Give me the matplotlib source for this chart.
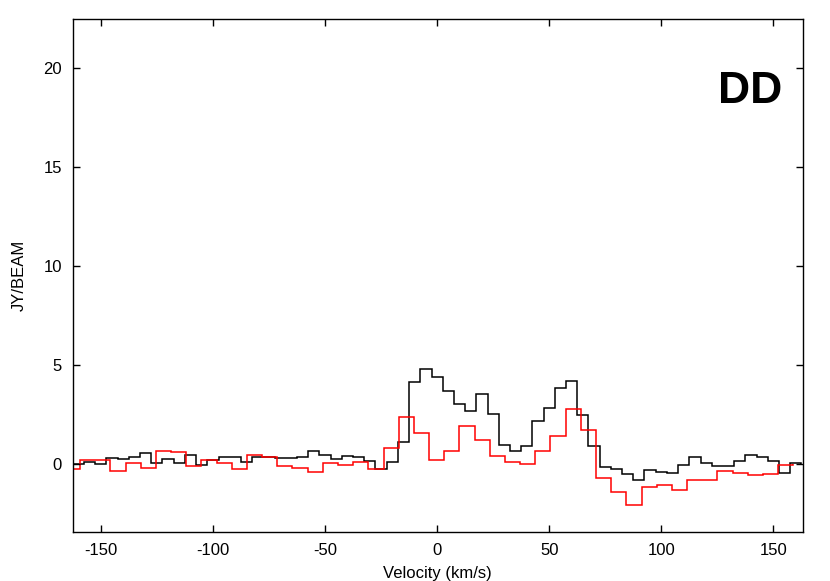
import numpy as np
import matplotlib
matplotlib.use("Agg")
import matplotlib.pyplot as plt

plt.rcParams['font.family'] = ['Liberation Sans', 'DejaVu Sans']
plt.rcParams['axes.unicode_minus'] = False

# canal preto: centros a cada 5 km/s, de -160 a 160
vel_preto = np.arange(-160, 161, 5)
fluxo_preto = [0.0, 0.08, -0.02, 0.27, 0.25, 0.32, 0.54, 0.03, 0.24, 0.03,
               0.45, -0.08, 0.2, 0.34, 0.32, 0.07, 0.37, 0.34, 0.27, 0.29,
               0.37, 0.67, 0.45, 0.25, 0.40, 0.37, 0.12, -0.25, 0.07, 1.09,
               4.12, 4.8, 4.41, 3.69, 3.01, 2.68, 3.52, 2.54, 0.96, 0.66,
               0.88, 2.17, 2.81, 3.86, 4.19, 2.46, 0.92, -0.18, -0.28, -0.54,
               -0.84, -0.32, -0.42, -0.44, -0.08, 0.34, 0.05, -0.12, -0.12, 0.12,
               0.43, 0.37, 0.16, -0.45, 0.03]

# canal vermelho: largura ~6.77 km/s
largura_vermelho = 6.77
vel_vermelho = np.arange(-24, 24) * largura_vermelho - 0.2
fluxo_vermelho = [-0.24, 0.18, 0.18, -0.34, 0.03, -0.22, 0.67, 0.59, -0.1, 0.2,
                  0.03, -0.27, 0.45, 0.34, -0.1, -0.19, -0.39, 0.03, -0.05, 0.08,
                  -0.25, 0.79, 2.36, 1.55, 0.2, 0.66, 1.92, 1.21, 0.42, 0.07,
                  -0.02, 0.66, 1.43, 2.76, 1.72, -0.74, -1.45, -2.07, -1.18, -1.06,
                  -1.31, -0.83, -0.82, -0.34, -0.44, -0.59, -0.52, -0.04]

xticks = [-150, -100, -50, 0, 50, 100, 150]
yticks = [0, 5, 10, 15, 20]


def bordas(centros, largura):
    return np.append(centros - largura / 2, centros[-1] + largura / 2)


fig = plt.figure(figsize=(8.3, 5.81), dpi=100)
ax = fig.add_axes([0.088, 0.0843, 0.8789, 0.883])

ax.stairs(fluxo_preto, bordas(vel_preto, 5.0), color='black', linewidth=1.1)
ax.stairs(fluxo_vermelho, bordas(vel_vermelho, largura_vermelho), color='red', linewidth=1.1)

ax.set_xlim(-162.4, 163.0)
ax.set_ylim(-3.45, 22.5)
ax.set_xticks(xticks)
ax.set_yticks(yticks)
ax.tick_params(direction='in', top=True, right=True, length=5, width=1,
               labelsize=12, pad=8)
for s in ax.spines.values():
    s.set_linewidth(1)

ax.set_xlabel("Velocity (km/s)", fontsize=12, labelpad=6)
ax.set_ylabel("JY/BEAM", fontsize=12, labelpad=12)

ax.text(0.972, 0.836, "DD", transform=ax.transAxes, ha='right', va='baseline',
        fontsize=32, fontweight='bold')

fig.savefig("out.png", dpi=100)
